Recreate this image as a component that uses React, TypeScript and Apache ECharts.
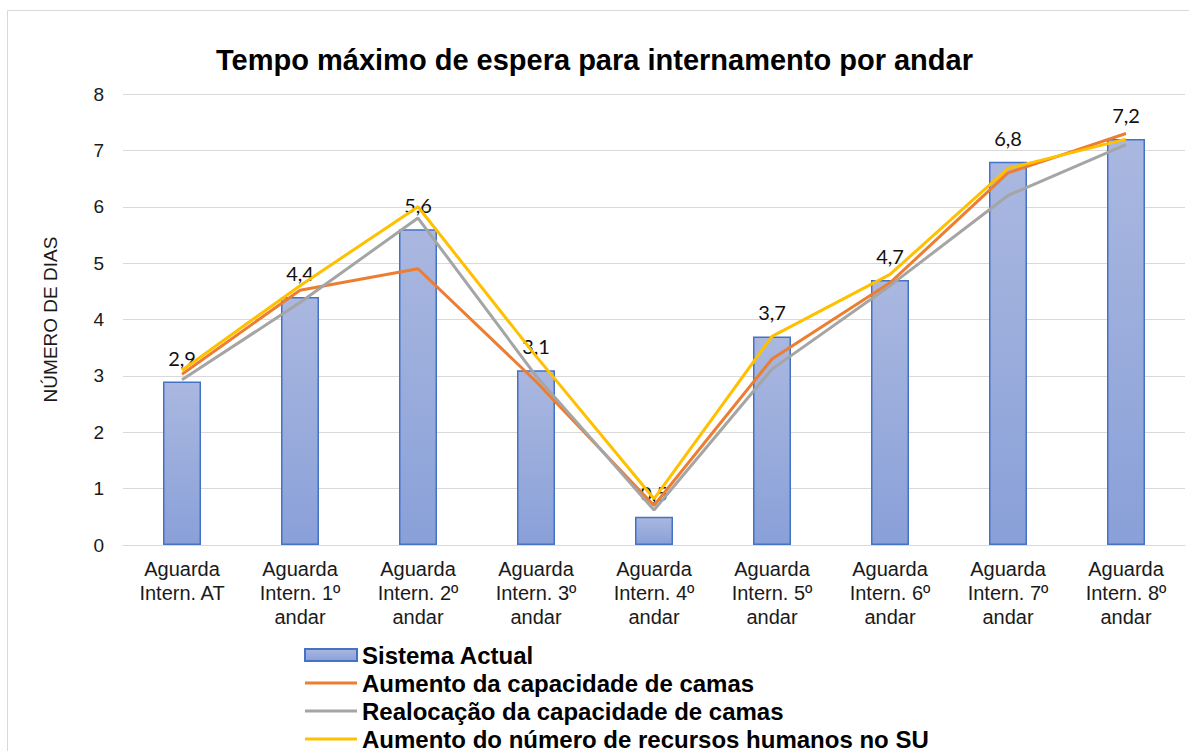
import React, { useEffect, useRef } from "react";
import * as echarts from "echarts";

const categories = [
  "Aguarda\nIntern. AT",
  "Aguarda\nIntern. 1\u00BA\nandar",
  "Aguarda\nIntern. 2\u00BA\nandar",
  "Aguarda\nIntern. 3\u00BA\nandar",
  "Aguarda\nIntern. 4\u00BA\nandar",
  "Aguarda\nIntern. 5\u00BA\nandar",
  "Aguarda\nIntern. 6\u00BA\nandar",
  "Aguarda\nIntern. 7\u00BA\nandar",
  "Aguarda\nIntern. 8\u00BA\nandar",
];

const sistemaActual = [2.9, 4.4, 5.6, 3.1, 0.5, 3.7, 4.7, 6.8, 7.2];
const aumentoCapacidade = [3.03, 4.52, 4.9, 2.9, 0.7, 3.3, 4.65, 6.6, 7.3];
const realocacaoCapacidade = [2.93, 4.3, 5.8, 3.0, 0.62, 3.12, 4.6, 6.2, 7.1];
const aumentoRecursos = [3.1, 4.6, 6.0, 3.35, 0.82, 3.7, 4.8, 6.68, 7.2];

const seriesNames = [
  "Sistema Actual",
  "Aumento da capacidade de camas",
  "Realocação da capacidade de camas",
  "Aumento do número de recursos humanos no SU",
];

const FONT = '"Liberation Sans", Arial, sans-serif';
const LINE_ICON = "path://M0,0L52,0L52,3L0,3Z";

export default function App() {
  const ref = useRef<HTMLDivElement>(null);

  useEffect(() => {
    if (!ref.current) return;
    const chart = echarts.init(ref.current, null, { renderer: "svg" });
    chart.setOption({
      animation: false,
      backgroundColor: "#ffffff",
      textStyle: { fontFamily: FONT },
      graphic: [
        {
          type: "rect",
          z: -10,
          silent: true,
          shape: { x: 7.5, y: 10.5, width: 1300, height: 900 },
          style: { fill: "none", stroke: "#d9d9d9", lineWidth: 1 },
        },
      ],
      title: {
        text: "Tempo máximo de espera para internamento por andar",
        left: "center",
        top: 40,
        textStyle: {
          fontFamily: FONT,
          fontSize: 29,
          fontWeight: "bold",
          color: "#000000",
        },
      },
      legend: {
        orient: "vertical",
        left: 304,
        top: 643,
        height: 160,
        padding: 0,
        itemWidth: 52,
        itemHeight: 12,
        itemGap: 4,
        symbolKeepAspect: true,
        data: [
          { name: seriesNames[0], icon: "rect" },
          { name: seriesNames[1], icon: LINE_ICON },
          { name: seriesNames[2], icon: LINE_ICON },
          { name: seriesNames[3], icon: LINE_ICON },
        ],
        textStyle: {
          fontFamily: FONT,
          fontSize: 24,
          lineHeight: 24,
          fontWeight: "bold",
          color: "#000000",
        },
      },
      grid: { left: 123, right: 4, top: 94, bottom: 206 },
      xAxis: {
        type: "category",
        data: categories,
        axisLine: { show: true, lineStyle: { color: "#d9d9d9", width: 1 } },
        axisTick: { show: false },
        axisLabel: {
          interval: 0,
          fontFamily: FONT,
          fontSize: 20,
          lineHeight: 24,
          margin: 12,
          color: "#1a1a1a",
        },
      },
      yAxis: {
        type: "value",
        min: 0,
        max: 8,
        interval: 1,
        name: "NÚMERO DE DIAS",
        nameLocation: "middle",
        nameGap: 63,
        nameRotate: 90,
        nameTextStyle: { fontFamily: FONT, fontSize: 19, color: "#1a1a1a" },
        axisLine: { show: false },
        axisTick: { show: false },
        axisLabel: {
          fontFamily: FONT,
          fontSize: 19,
          margin: 19,
          color: "#1a1a1a",
        },
        splitLine: { lineStyle: { color: "#d9d9d9", width: 1 } },
      },
      series: [
        {
          name: seriesNames[0],
          type: "bar",
          data: sistemaActual,
          barWidth: 38,
          itemStyle: {
            color: new echarts.graphic.LinearGradient(0, 0, 0, 1, [
              { offset: 0, color: "#aab8e0" },
              { offset: 1, color: "#89a0d8" },
            ]),
            borderColor: "#4472c4",
            borderWidth: 1.5,
          },
          label: {
            show: true,
            position: "top",
            distance: 14,
            fontFamily: "Lato, 'Open Sans', sans-serif",
            fontSize: 20,
            color: "#111111",
            formatter: (p: any) => Number(p.value).toFixed(1).replace(".", ","),
          },
        },
        {
          name: seriesNames[1],
          type: "line",
          data: aumentoCapacidade,
          symbol: "none",
          lineStyle: { color: "#ed7d31", width: 3 },
          itemStyle: { color: "#ed7d31" },
        },
        {
          name: seriesNames[2],
          type: "line",
          data: realocacaoCapacidade,
          symbol: "none",
          lineStyle: { color: "#a5a5a5", width: 3 },
          itemStyle: { color: "#a5a5a5" },
        },
        {
          name: seriesNames[3],
          type: "line",
          data: aumentoRecursos,
          symbol: "none",
          lineStyle: { color: "#ffc000", width: 3 },
          itemStyle: { color: "#ffc000" },
        },
      ],
    });
    return () => chart.dispose();
  }, []);

  return (
    <div
      ref={ref}
      style={{
        position: "absolute",
        left: 0,
        top: 0,
        width: 1189,
        height: 751,
        background: "#ffffff",
      }}
    />
  );
}
